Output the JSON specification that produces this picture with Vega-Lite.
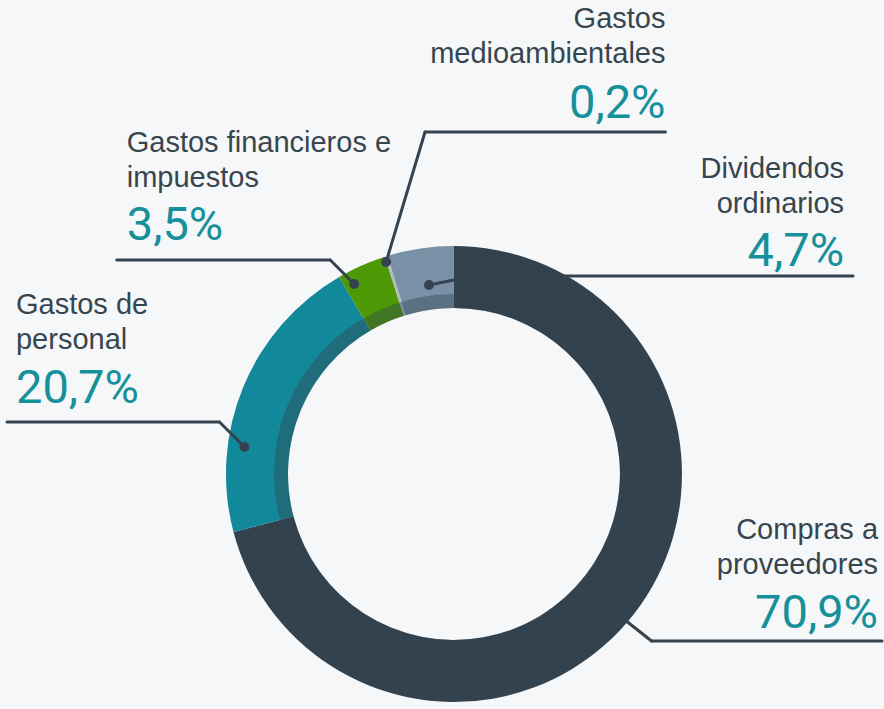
{
  "$schema": "https://vega.github.io/schema/vega-lite/v6.json",
  "width": 884,
  "height": 709,
  "autosize": {"type": "fit", "contains": "padding"},
  "padding": 0,
  "background": "#f6f7f8",
  "config": {"view": {"stroke": null}},
  "data": {
    "values": [
      {"cat": "Compras a proveedores", "label": "Compras a\nproveedores", "value": 70.9},
      {"cat": "Gastos de personal", "label": "Gastos de\npersonal", "value": 20.7},
      {"cat": "Gastos financieros e impuestos", "label": "Gastos financieros e\nimpuestos", "value": 3.5},
      {"cat": "Gastos medioambientales", "label": "Gastos\nmedioambientales", "value": 0.2},
      {"cat": "Dividendos ordinarios", "label": "Dividendos\nordinarios", "value": 4.7}
    ]
  },
  "transform": [
    {"window": [{"op": "row_number", "as": "i"}]},
    {"stack": "value", "groupby": [], "as": ["v0", "v1"]},
    {"calculate": "replace(format(datum.value, '.1f'), '.', ',') + '%'", "as": "pct"},
    {"calculate": "[880, 16, 127, 667, 846][datum.i - 1]", "as": "lx"},
    {"calculate": "[539, 314, 152, 28, 178][datum.i - 1]", "as": "ly"},
    {"calculate": "[628, 403, 240, 118, 266][datum.i - 1]", "as": "py"},
    {"calculate": "[615, 245, 355, 387, 430][datum.i - 1]", "as": "dx"},
    {"calculate": "[611, 447, 284, 262, 285][datum.i - 1]", "as": "dy"},
    {"calculate": "[653, 220, 331, 426, 475][datum.i - 1]", "as": "ex"},
    {"calculate": "[641, 422, 260, 132, 276][datum.i - 1]", "as": "ey"},
    {"calculate": "[884, 7, 117, 667, 855][datum.i - 1]", "as": "tx"},
    {"calculate": "(datum.i == 2 || datum.i == 3) ? 'left' : 'right'", "as": "side"}
  ],
  "layer": [
    {
      "mark": {"type": "arc", "outerRadius": 228, "innerRadius": 166},
      "encoding": {
        "x": {"datum": 455, "type": "quantitative", "scale": {"domain": [0, 884], "nice": false, "zero": false}, "axis": null},
        "y": {"datum": 474, "type": "quantitative", "scale": {"domain": [0, 709], "reverse": true, "nice": false, "zero": false}, "axis": null},
        "theta": {"field": "v0", "type": "quantitative", "stack": null, "scale": {"domain": [0, 100]}},
        "theta2": {"field": "v1"},
        "color": {
          "field": "cat",
          "type": "nominal",
          "legend": null,
          "scale": {
            "domain": ["Compras a proveedores", "Gastos de personal", "Gastos financieros e impuestos", "Gastos medioambientales", "Dividendos ordinarios"],
            "range": ["#33424f", "#12899a", "#4e9a06", "#b4bcc3", "#7891a7"]
          }
        }
      }
    },
    {
      "transform": [{"filter": "datum.i == 1"}],
      "mark": {"type": "arc", "outerRadius": 180, "innerRadius": 166, "color": "#334450", "opacity": 0.42},
      "encoding": {
        "x": {"datum": 455, "type": "quantitative", "scale": {"domain": [0, 884], "nice": false, "zero": false}, "axis": null},
        "y": {"datum": 474, "type": "quantitative", "scale": {"domain": [0, 709], "reverse": true, "nice": false, "zero": false}, "axis": null},
        "theta": {"datum": 0, "type": "quantitative", "stack": null, "scale": {"domain": [0, 100]}},
        "theta2": {"datum": 100}
      }
    },
    {
      "mark": {"type": "rule", "color": "#34434f", "strokeWidth": 3, "strokeCap": "round"},
      "encoding": {
        "x": {"field": "dx", "type": "quantitative", "scale": {"domain": [0, 884], "nice": false, "zero": false}, "axis": null},
        "y": {"field": "dy", "type": "quantitative", "scale": {"domain": [0, 709], "reverse": true, "nice": false, "zero": false}, "axis": null},
        "x2": {"field": "ex"},
        "y2": {"field": "ey"}
      }
    },
    {
      "mark": {"type": "rule", "color": "#34434f", "strokeWidth": 3, "strokeCap": "round"},
      "encoding": {
        "x": {"field": "ex", "type": "quantitative", "scale": {"domain": [0, 884], "nice": false, "zero": false}, "axis": null},
        "y": {"field": "ey", "type": "quantitative", "scale": {"domain": [0, 709], "reverse": true, "nice": false, "zero": false}, "axis": null},
        "x2": {"field": "tx"},
        "y2": {"field": "ey"}
      }
    },
    {
      "mark": {"type": "point", "shape": "circle", "filled": true, "size": 100, "color": "#34434f", "opacity": 1},
      "encoding": {
        "x": {"field": "dx", "type": "quantitative", "scale": {"domain": [0, 884], "nice": false, "zero": false}, "axis": null},
        "y": {"field": "dy", "type": "quantitative", "scale": {"domain": [0, 709], "reverse": true, "nice": false, "zero": false}, "axis": null}
      }
    },
    {
      "transform": [{"filter": "datum.side == 'right'"}],
      "mark": {"type": "text", "align": "right", "baseline": "alphabetic", "lineBreak": "\n", "lineHeight": 35, "font": "Liberation Sans", "fontSize": 29, "color": "#36464f"},
      "encoding": {
        "x": {"field": "lx", "type": "quantitative", "scale": {"domain": [0, 884], "nice": false, "zero": false}, "axis": null},
        "y": {"field": "ly", "type": "quantitative", "scale": {"domain": [0, 709], "reverse": true, "nice": false, "zero": false}, "axis": null},
        "text": {"field": "label"}
      }
    },
    {
      "transform": [{"filter": "datum.side == 'left'"}],
      "mark": {"type": "text", "align": "left", "baseline": "alphabetic", "lineBreak": "\n", "lineHeight": 35, "font": "Liberation Sans", "fontSize": 29, "color": "#36464f"},
      "encoding": {
        "x": {"field": "lx", "type": "quantitative", "scale": {"domain": [0, 884], "nice": false, "zero": false}, "axis": null},
        "y": {"field": "ly", "type": "quantitative", "scale": {"domain": [0, 709], "reverse": true, "nice": false, "zero": false}, "axis": null},
        "text": {"field": "label"}
      }
    },
    {
      "transform": [{"filter": "datum.side == 'right'"}],
      "mark": {"type": "text", "align": "right", "baseline": "alphabetic", "font": "Roboto", "fontWeight": 400, "fontSize": 47, "color": "#16909a"},
      "encoding": {
        "x": {"field": "lx", "type": "quantitative", "scale": {"domain": [0, 884], "nice": false, "zero": false}, "axis": null},
        "y": {"field": "py", "type": "quantitative", "scale": {"domain": [0, 709], "reverse": true, "nice": false, "zero": false}, "axis": null},
        "text": {"field": "pct"}
      }
    },
    {
      "transform": [{"filter": "datum.side == 'left'"}],
      "mark": {"type": "text", "align": "left", "baseline": "alphabetic", "font": "Roboto", "fontWeight": 400, "fontSize": 47, "color": "#16909a"},
      "encoding": {
        "x": {"field": "lx", "type": "quantitative", "scale": {"domain": [0, 884], "nice": false, "zero": false}, "axis": null},
        "y": {"field": "py", "type": "quantitative", "scale": {"domain": [0, 709], "reverse": true, "nice": false, "zero": false}, "axis": null},
        "text": {"field": "pct"}
      }
    }
  ]
}
